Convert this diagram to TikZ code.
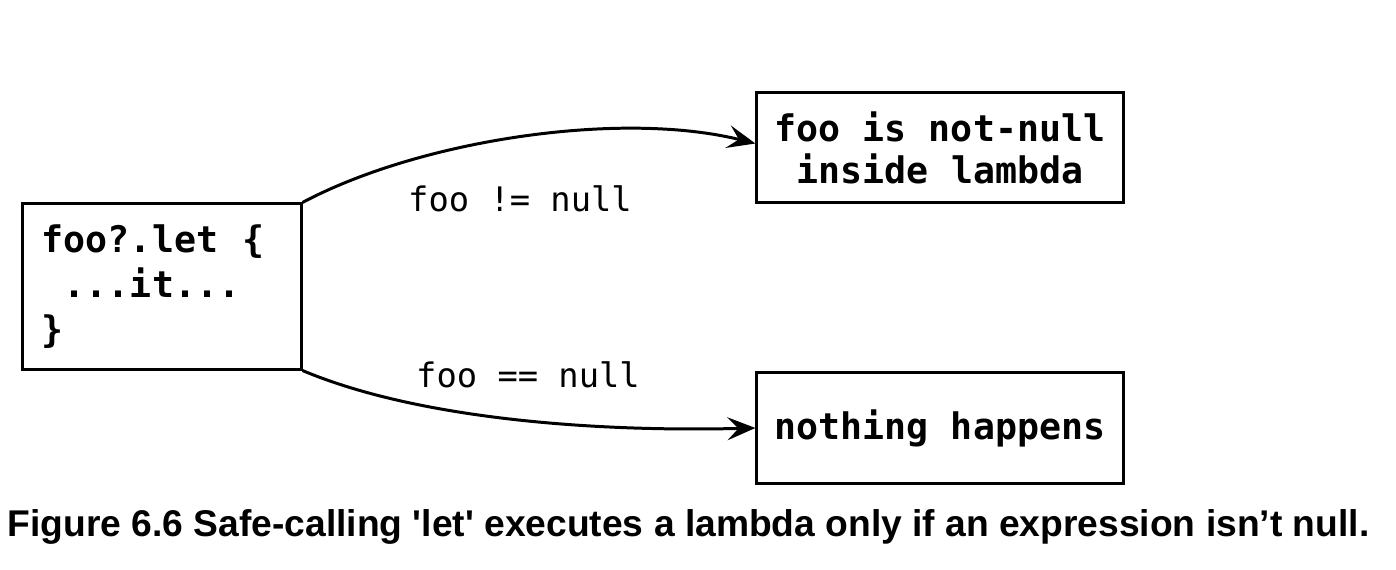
\documentclass[tikz,border=0pt]{standalone}
\usepackage{fontspec}
\newfontfamily\capfont{Liberation Sans}
\newfontfamily\codefont{DejaVu Sans Mono}
\usetikzlibrary{arrows.meta,calc}
\begin{document}
\begin{tikzpicture}[x=0.01cm,y=-0.01cm,
  box/.style={draw,line width=0.85pt,inner sep=0pt},
  conn/.style={line width=0.85pt,-{Stealth[length=0.28cm,width=0.23cm,inset=0.11cm]}},
  lbl/.style={font=\codefont\fontsize{9.6}{11}\selectfont,inner sep=0pt},
  boxtext/.style={font=\codefont\bfseries\fontsize{10.4}{12}\selectfont}]
\useasboundingbox (0,0) rectangle (1396,570);
\node[box,boxtext,text width=2.40cm,inner xsep=0.19cm,minimum height=1.65cm,align=left,
  font=\codefont\bfseries\fontsize{10.4}{12.8}\selectfont] (src) at (162,286.5)
  {foo?.let\hspace{0.68em}\{\\\phantom{.}...it...\\\}};
\node[box,boxtext,minimum width=3.66cm,minimum height=1.09cm,align=center,
  font=\codefont\bfseries\fontsize{10.4}{11.95}\selectfont] (nn) at (940,147.5)
  {foo is not-null\\inside lambda};
\node[box,boxtext,minimum width=3.66cm,minimum height=1.10cm] (nh) at (940,428)
  {nothing happens};
\draw[conn] (src.north east) .. controls (420,140) and (620,110) .. ($(nn.west)+(0,-4)$);
\draw[conn] (src.south east) .. controls (420,420) and (600,432) .. (nh.west);
\node[lbl,anchor=base] (l1) at (520,212) {foo != null};
\node[lbl,anchor=base] (l2) at (528,387) {foo == null};
\node[anchor=base west,inner sep=0pt,font=\capfont\bfseries\fontsize{10.58}{12}\selectfont] (cap) at (7,537)
  {Figure 6.6 Safe-calling 'let' executes a lambda only if an expression isn’t null.};
\end{tikzpicture}
\end{document}
